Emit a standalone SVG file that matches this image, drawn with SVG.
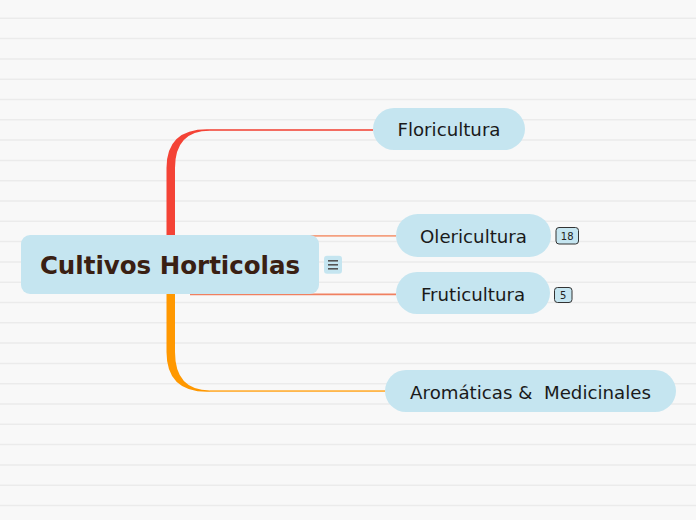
<svg xmlns="http://www.w3.org/2000/svg" width="696" height="520" viewBox="0 0 696 520">
<style>
.bgline{stroke:#ebebeb;stroke-width:1.5}
.node{fill:#c5e5f0}
.lbl{font-family:"DejaVu Sans",Verdana,sans-serif;font-size:18.2px;fill:#1a1a1a;text-anchor:middle}
.badge{fill:#c5e5f0;stroke:#333;stroke-width:1}
.btxt{font-family:"DejaVu Sans",Verdana,sans-serif;font-size:10px;fill:#222;text-anchor:middle}
</style>
<rect width="696" height="520" fill="#f8f8f8"/>
<g id="background">
<line class="bgline" x1="0" x2="696" y1="18.3" y2="18.3"/>
<line class="bgline" x1="0" x2="696" y1="38.6" y2="38.6"/>
<line class="bgline" x1="0" x2="696" y1="58.9" y2="58.9"/>
<line class="bgline" x1="0" x2="696" y1="79.2" y2="79.2"/>
<line class="bgline" x1="0" x2="696" y1="99.5" y2="99.5"/>
<line class="bgline" x1="0" x2="696" y1="119.8" y2="119.8"/>
<line class="bgline" x1="0" x2="696" y1="140.1" y2="140.1"/>
<line class="bgline" x1="0" x2="696" y1="160.4" y2="160.4"/>
<line class="bgline" x1="0" x2="696" y1="180.7" y2="180.7"/>
<line class="bgline" x1="0" x2="696" y1="201" y2="201"/>
<line class="bgline" x1="0" x2="696" y1="221.3" y2="221.3"/>
<line class="bgline" x1="0" x2="696" y1="241.6" y2="241.6"/>
<line class="bgline" x1="0" x2="696" y1="261.9" y2="261.9"/>
<line class="bgline" x1="0" x2="696" y1="282.2" y2="282.2"/>
<line class="bgline" x1="0" x2="696" y1="302.5" y2="302.5"/>
<line class="bgline" x1="0" x2="696" y1="322.8" y2="322.8"/>
<line class="bgline" x1="0" x2="696" y1="343.1" y2="343.1"/>
<line class="bgline" x1="0" x2="696" y1="363.4" y2="363.4"/>
<line class="bgline" x1="0" x2="696" y1="383.7" y2="383.7"/>
<line class="bgline" x1="0" x2="696" y1="404" y2="404"/>
<line class="bgline" x1="0" x2="696" y1="424.3" y2="424.3"/>
<line class="bgline" x1="0" x2="696" y1="444.6" y2="444.6"/>
<line class="bgline" x1="0" x2="696" y1="464.9" y2="464.9"/>
<line class="bgline" x1="0" x2="696" y1="485.2" y2="485.2"/>
<line class="bgline" x1="0" x2="696" y1="505.5" y2="505.5"/>
</g>
<g id="connectors">
<path d="M166.5,250 L166.5,168 Q166.5,129.3 207,129.3 L373,129.3 L373,130.8 L210,130.8 Q175,130.8 175,168 L175,250 Z" fill="#f44336"/>
<line x1="210" y1="130" x2="373" y2="130" stroke="#f26b60" stroke-width="1.4"/>
<path d="M166.5,280 L166.5,352 Q166.5,391.8 207,391.8 L385,391.8 L385,390.4 L210,390.4 Q175,390.4 175,352 L175,280 Z" fill="#ff9800"/>
<line x1="210" y1="391.2" x2="385" y2="391.2" stroke="#ffb74d" stroke-width="1.4"/>
<line x1="190" y1="235.8" x2="396" y2="235.8" stroke="#f4a080" stroke-width="1.8"/>
<line x1="190" y1="294.3" x2="396" y2="294.3" stroke="#f08060" stroke-width="1.8"/>
</g>
<g id="central">
<rect class="node" x="21" y="235" width="298" height="59" rx="9"/>
<text x="170" y="274" font-family="DejaVu Sans,Verdana,sans-serif" font-size="24.5" font-weight="bold" fill="#3a2013" text-anchor="middle">Cultivos Horticolas</text>
<rect x="324" y="255.7" width="18" height="18" rx="3" fill="#c5e5f0"/>
<g stroke="#555" stroke-width="1.6">
<line x1="328" y1="260.8" x2="338" y2="260.8"/>
<line x1="328" y1="264.8" x2="338" y2="264.8"/>
<line x1="328" y1="268.8" x2="338" y2="268.8"/>
</g>
</g>
<g id="floricultura">
<rect class="node" x="373" y="108" width="152" height="42" rx="21"/>
<text class="lbl" x="449" y="136">Floricultura</text>
</g>
<g id="olericultura">
<rect class="node" x="396" y="214" width="155" height="43" rx="21.5"/>
<text class="lbl" x="473.5" y="243">Olericultura</text>
<rect class="badge" x="556" y="227.5" width="22.5" height="16.5" rx="3"/>
<text class="btxt" x="567.2" y="239.8">18</text>
</g>
<g id="fruticultura">
<rect class="node" x="396" y="272" width="154" height="42" rx="21"/>
<text class="lbl" x="473" y="301">Fruticultura</text>
<rect class="badge" x="554.5" y="287.5" width="17.5" height="15" rx="3"/>
<text class="btxt" x="563.2" y="299">5</text>
</g>
<g id="aromaticas">
<rect class="node" x="385" y="370" width="291" height="42" rx="21"/>
<text class="lbl" x="530.5" y="399" xml:space="preserve">Aromáticas &amp;  Medicinales</text>
</g>
</svg>
